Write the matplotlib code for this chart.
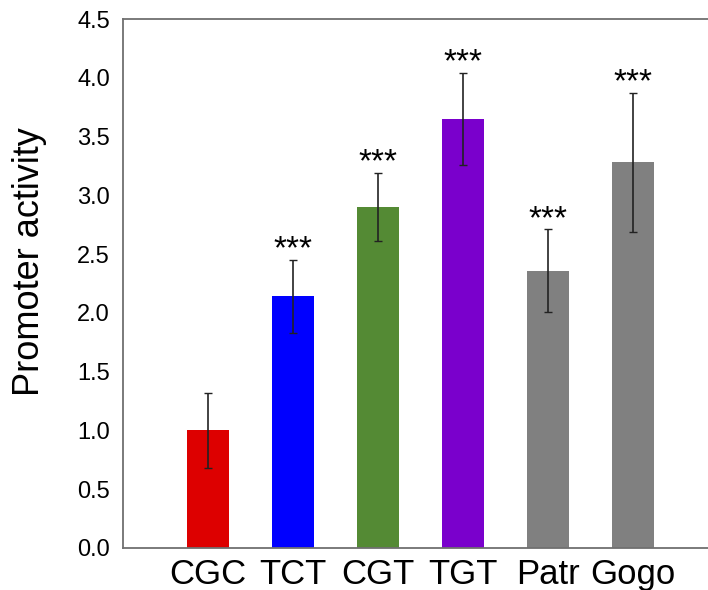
import matplotlib
matplotlib.use("Agg")
import matplotlib.pyplot as plt

# 数据
labels = ["CGC", "TCT", "CGT", "TGT", "Patr", "Gogo"]
values = [1.00, 2.14, 2.90, 3.65, 2.36, 3.28]
errors = [0.32, 0.31, 0.29, 0.39, 0.35, 0.59]
stars = ["", "***", "***", "***", "***", "***"]
colors = ["#DD0000", "#0000FF", "#548A34", "#7A00CC", "#808080", "#808080"]

plt.rcParams["font.family"] = ["Liberation Sans", "DejaVu Sans"]

fig = plt.figure(figsize=(7.08, 5.9), dpi=100)

# 右侧没有边框，所以坐标轴伸出画布
W, H = 708, 590
ax = fig.add_axes([123 / W, (H - 548) / H, 595 / W, 529 / H])

x = list(range(1, len(labels) + 1))

ax.bar(x, values, width=0.5, color=colors, zorder=2)
ax.errorbar(
    x, values, yerr=errors,
    fmt="none", ecolor="#222222", elinewidth=1.2,
    capsize=3, capthick=1.0, zorder=3
)

for xi, v, e, s in zip(x, values, errors, stars):
    if s:
        ax.annotate(
            s, (xi, v + e), xytext=(0, -4), textcoords="offset points",
            ha="center", va="bottom", fontsize=24
        )

ax.set_xlim(0, 7)
ax.set_ylim(0, 4.5)
ax.set_yticks([0, 0.5, 1, 1.5, 2, 2.5, 3, 3.5, 4, 4.5])
ax.set_yticklabels([f"{t:.1f}" for t in ax.get_yticks()])
ax.set_xticks(x)
ax.set_xticklabels(labels)

ax.tick_params(axis="y", length=0, pad=9.5, labelsize=17)
ax.tick_params(axis="x", length=0, pad=7, labelsize=25)

for side in ["left", "bottom", "top"]:
    ax.spines[side].set_color("#707070")
    ax.spines[side].set_linewidth(1.3)
ax.spines["right"].set_visible(False)

ax.set_ylabel("Promoter activity", fontsize=26)
ax.yaxis.set_label_coords(47 / W, (H - 262) / H, transform=fig.transFigure)

fig.savefig("out.png", dpi=100)
